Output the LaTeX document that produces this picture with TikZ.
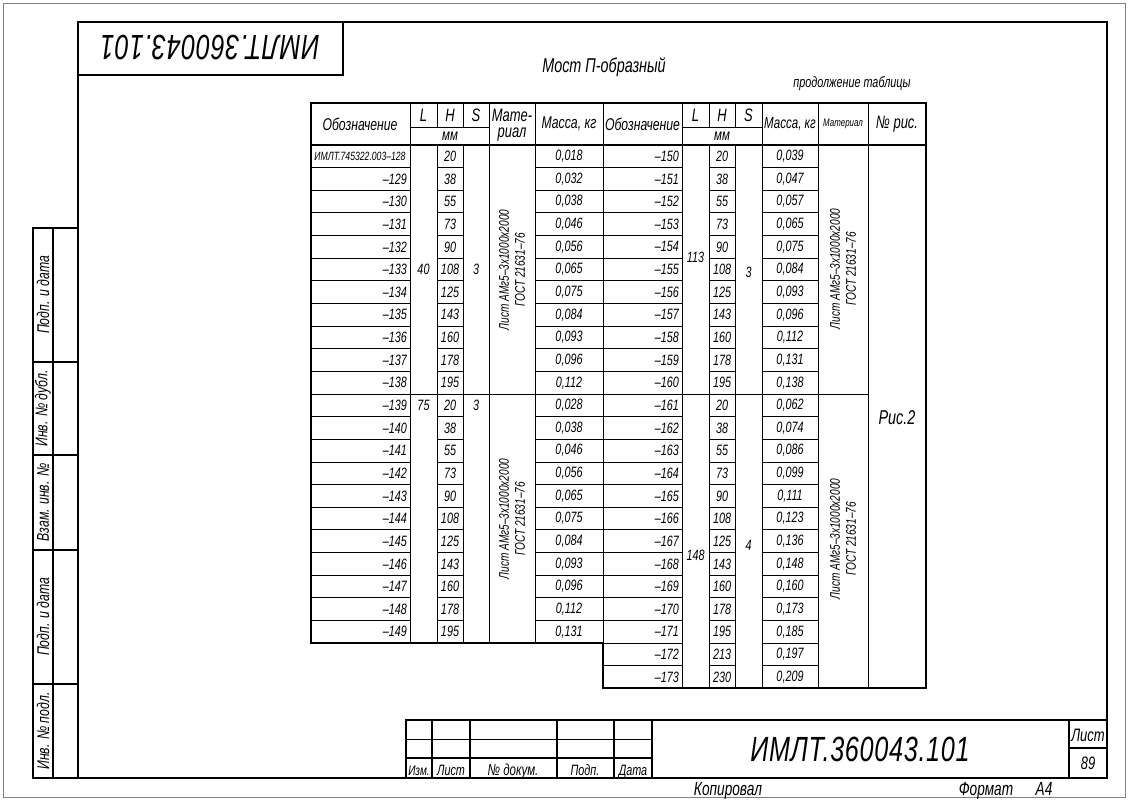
\documentclass[tikz,border=0pt]{standalone}
\usepackage{fontspec}
\setmainfont{Liberation Sans}[FakeStretch=0.72]
\newcommand{\gostsize}[1]{\fontsize{#1}{#1}\selectfont}
\begin{document}
\begin{tikzpicture}[x=1pt,y=-1pt]
        \tikzstyle{every node}=[inner sep=0pt, font=\itshape\gostsize{15}];
        \tikzstyle{thinline}=[line width=0.9pt];
        \tikzstyle{thickline}=[line width=2pt];
        \tikzstyle{head}=[font=\itshape\gostsize{18}];
        \tikzstyle{stamp}=[rotate=90, font=\itshape\gostsize{17}];
        \tikzstyle{label}=[anchor=base, font=\itshape\gostsize{15}];
        \tikzstyle{bigcode}=[font=\itshape\gostsize{35}\addfontfeatures{LetterSpace=2}];
        \tikzstyle{material}=[rotate=90, align=center, font=\itshape\fontsize{14}{16}\selectfont];
        \useasboundingbox (0,0) rectangle (1129,801);
        %sheet border and frame
        \draw[gray, line width=1pt] (3,3) rectangle (1125,797);
        \draw[thickline] (78,22) rectangle (1107,778);
        %upside-down code box
        \draw[thickline] (78,75) -- (343,75) -- (343,22);
        \node[bigcode, rotate=180] (topcode) at (210,48) {ИМЛТ.360043.101};
        %headings
        \node[font=\itshape\gostsize{20}] (title) at (604,67) {Мост П-образный};
        \node[font=\itshape\gostsize{15}] (cont) at (852,84) {продолжение таблицы};
        %table grid
        \foreach \i in {1,...,21}
          \draw[thinline] (311,145+\i*22.64) -- (410,145+\i*22.64) (437,145+\i*22.64) -- (463,145+\i*22.64) (535,145+\i*22.64) -- (603,145+\i*22.64);
        \foreach \i in {1,...,23}
          \draw[thinline] (603,145+\i*22.64) -- (682,145+\i*22.64) (709,145+\i*22.64) -- (735,145+\i*22.64) (762,145+\i*22.64) -- (818,145+\i*22.64);
        \draw[thinline] (311,394.04) -- (868,394.04);
        \draw[thinline] (410,103) -- (410,643) (489,103) -- (489,643) (535,103) -- (535,643) (603,103) -- (603,643)
          (437,103) -- (437,127) (437,145) -- (437,643) (463,103) -- (463,127) (463,145) -- (463,643)
          (682,103) -- (682,688.4) (762,103) -- (762,688.4) (818,103) -- (818,688.4) (868,103) -- (868,688.4)
          (709,103) -- (709,127) (709,145) -- (709,688.4) (735,103) -- (735,127) (735,145) -- (735,688.4)
          (410,127) -- (489,127) (682,127) -- (762,127);
        \draw[thickline] (311,145) -- (926,145);
        \draw[thickline] (311,103) -- (926,103) -- (926,688.4) -- (603,688.4) -- (603,643.1) -- (311,643.1) -- cycle;
        %table head
        \node[head, font=\itshape\gostsize{17}] (hdA) at (360,124) {Обозначение};
        \node[head] (hlA) at (423.5,115) {L};
        \node[head] (hhA) at (450,115) {H};
        \node[head] (hsA) at (476,115) {S};
        \node[font=\itshape\gostsize{16}] (mmA) at (450,136) {мм};
        \node[head] (hmatA) at (512,115) {Мате-};
        \node[head] (hmatB) at (512,135) {риал};
        \node[head, font=\itshape\gostsize{17}] (hmA) at (569,124) {Масса, кг};
        \node[head, font=\itshape\gostsize{17}] (hdB) at (642.5,124) {Обозначение};
        \node[head] (hlB) at (695.5,115) {L};
        \node[head] (hhB) at (722,115) {H};
        \node[head] (hsB) at (748.5,115) {S};
        \node[font=\itshape\gostsize{16}] (mmB) at (722,136) {мм};
        \node[head, font=\itshape\gostsize{16}] (hmB) at (790,124) {Масса, кг};
        \node[font=\itshape\gostsize{11}] (hmatC) at (843,124) {Материал};
        \node[head] (hfig) at (897,124) {№ рис.};
        %left half, -128 ... -149
        \foreach \h/\m [count=\i from 0] in {20/018,38/032,55/038,73/046,90/056,108/065,125/075,143/084,160/093,178/096,195/112,20/028,38/038,55/046,73/056,90/065,108/075,125/084,143/093,160/096,178/112,195/131}{
          \pgfmathtruncatemacro\nn{128+\i}
          \node (hL\i) at (450,156.32+\i*22.64) {\h};
          \node (mL\i) at (569,156.32+\i*22.64) {0,\m};
          \ifnum\i>0 \node[anchor=east] (dL\i) at (407,156.32+\i*22.64) {–\nn};\fi
        }
        \node[font=\itshape\gostsize{12}] (dL0) at (360,156.32) {ИМЛТ.745322.003–128};
        %right half, -150 ... -173
        \foreach \h/\m [count=\i from 0] in {20/039,38/047,55/057,73/065,90/075,108/084,125/093,143/096,160/112,178/131,195/138,20/062,38/074,55/086,73/099,90/111,108/123,125/136,143/148,160/160,178/173,195/185,213/197,230/209}{
          \pgfmathtruncatemacro\nn{150+\i}
          \node (hR\i) at (722,156.32+\i*22.64) {\h};
          \node (mR\i) at (790,156.32+\i*22.64) {0,\m};
          \node[anchor=east] (dR\i) at (679,156.32+\i*22.64) {–\nn};
        }
        %merged cells
        \node (lA) at (423.5,269.6) {40};
        \node (sA) at (476,269.6) {3};
        \node[material] (matA) at (512,270) {Лист АМг5–3х1000х2000\\ГОСТ 21631–76};
        \node (lB) at (423.5,405.3) {75};
        \node (sB) at (476,405.3) {3};
        \node[material] (matB) at (512,519) {Лист АМг5–3х1000х2000\\ГОСТ 21631–76};
        \node (lC) at (695.5,257) {113};
        \node (sC) at (748.5,272) {3};
        \node[material] (matC) at (843,269) {Лист АМг5–3х1000х2000\\ГОСТ 21631–76};
        \node (lD) at (695.5,555) {148};
        \node (sD) at (748.5,545) {4};
        \node[material] (matD) at (843,539) {Лист АМг5–3х1000х2000\\ГОСТ 21631–76};
        \node[font=\itshape\gostsize{20}] (fig) at (897,418) {Рис.2};
        %left stamp
        \draw[thickline] (33,228) rectangle (78,778);
        \draw[thickline] (53,228) -- (53,778);
        \foreach \yy in {362,455,550,684}
          \draw[thickline] (33,\yy) -- (78,\yy);
        \node[stamp] (stA) at (43,295) {Подп. и дата};
        \node[stamp] (stB) at (43,408.5) {Инв. № дубл.};
        \node[stamp] (stC) at (43,502.5) {Взам. инв. №};
        \node[stamp] (stD) at (43,617) {Подп. и дата};
        \node[stamp] (stE) at (43,731) {Инв. № подл.};
        %title block
        \draw[thickline] (406,778) -- (406,720) -- (1107,720);
        \foreach \xx in {432,470,557,614,652,1069}
          \draw[thickline] (\xx,720) -- (\xx,778);
        \draw[thinline] (406,739) -- (652,739);
        \draw[thickline] (406,758) -- (652,758);
        \draw[thickline] (1069,748) -- (1107,748);
        \node[label, font=\itshape\gostsize{14}] (tbA) at (419,775) {Изм.};
        \node[label] (tbB) at (451,775) {Лист};
        \node[label, font=\itshape\gostsize{16}] (tbC) at (513,775) {№ докум.};
        \node[label] (tbD) at (585,775) {Подп.};
        \node[label] (tbE) at (633,775) {Дата};
        \node[bigcode] (code) at (860,749) {ИМЛТ.360043.101};
        \node[label, font=\itshape\gostsize{18}] (sheet) at (1088,741) {Лист};
        \node[label, font=\itshape\gostsize{18}] (sheetno) at (1088,769) {89};
        \node[label, font=\itshape\gostsize{19}] (copied) at (728,795) {Копировал};
        \node[label, font=\itshape\gostsize{19}] (format) at (986,795) {Формат};
        \node[label, font=\itshape\gostsize{19}] (formatA) at (1044,795) {А4};
\end{tikzpicture}
\end{document}
